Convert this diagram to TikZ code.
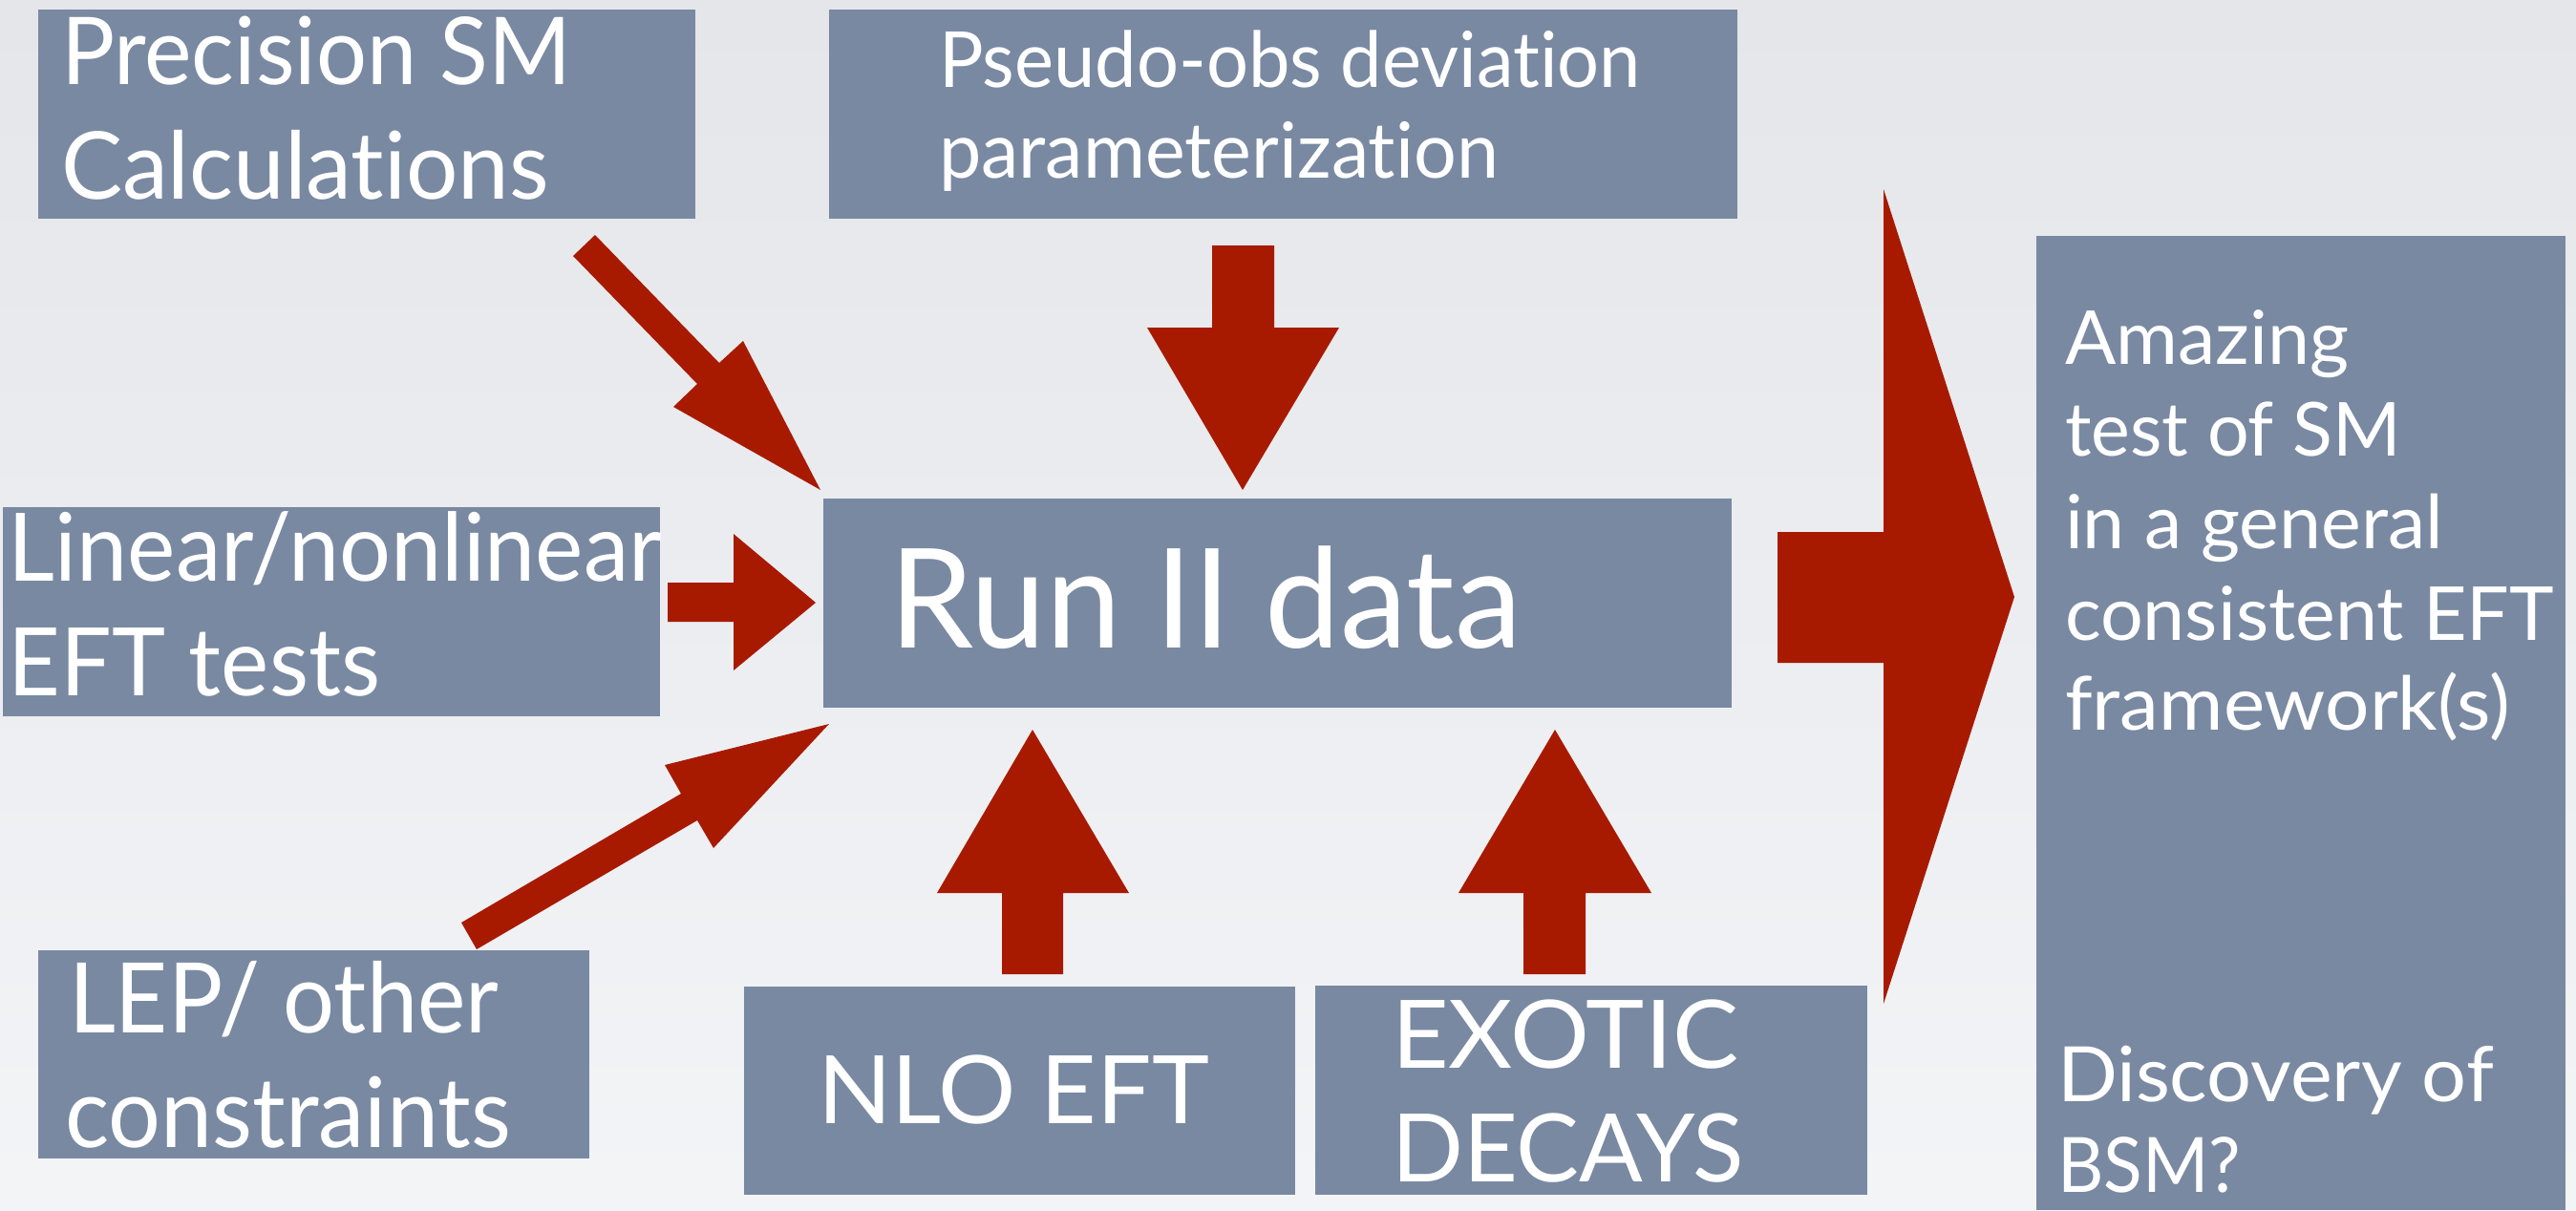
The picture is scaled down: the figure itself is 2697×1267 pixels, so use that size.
\documentclass[tikz,border=0pt]{standalone}
\usepackage{fontspec}
\setmainfont{Lato}[RawFeature={-liga;-dlig;-clig}]
\usepackage{graphicx}
\definecolor{bgc}{RGB}{235,237,241}
\definecolor{boxc}{RGB}{121,137,162}
\definecolor{arrc}{RGB}{168,26,0}
\newcommand{\fl}[3]{{\fontsize{#1pt}{#1pt}\selectfont\resizebox{#2pt}{\height}{#3}}}
\tikzset{
  box/.style={fill=boxc, draw=none, inner sep=0pt, outer sep=0pt, anchor=north west},
  txt/.style={anchor=base west, inner sep=0pt, outer sep=0pt, text=white},
  blockarrow/.style={fill=arrc, draw=none}
}
\begin{document}
\begin{tikzpicture}[x=1pt,y=-1pt]
\shade[top color=bgc!97!black, bottom color=bgc!60!white] (0,0) rectangle (2697,1267);
\useasboundingbox (0,0) rectangle (2697,1267);
% boxes
\node[box, minimum width=688pt, minimum height=219pt] (prec) at (40,10) {};
\node[box, minimum width=951pt, minimum height=219pt] (pseudo) at (868,10) {};
\node[box, minimum width=688pt, minimum height=219pt] (lin) at (3,531) {};
\node[box, minimum width=951pt, minimum height=219pt] (run) at (862,522) {};
\node[box, minimum width=577pt, minimum height=218pt] (lep) at (40,995) {};
\node[box, minimum width=577pt, minimum height=218pt] (nlo) at (779,1033) {};
\node[box, minimum width=578pt, minimum height=219pt] (exo) at (1377,1032) {};
\node[box, minimum width=554pt, minimum height=1020pt] (res) at (2132,247) {};
% texts
\node[txt] (t1) at (64,88) {\fl{98}{534}{Precision SM}};
\node[txt] (t2) at (64,208) {\fl{98}{511}{Calculations}};
\node[txt] (t3) at (983,91) {\fl{81}{735}{Pseudo-obs deviation}};
\node[txt] (t4) at (983,186) {\fl{81}{586}{parameterization}};
\node[txt] (t5) at (9,608) {\fl{99}{684}{Linear/nonlinear}};
\node[txt] (t6) at (9,728) {\fl{99}{389}{EFT tests}};
\node[txt] (t7) at (931,678) {\fl{145}{662}{Run II data}};
\node[txt] (t8) at (72,1081) {\fl{102}{450}{LEP/ other}};
\node[txt] (t9) at (68,1201) {\fl{102}{467}{constraints}};
\node[txt] (t10) at (856,1176) {\fl{99}{410}{NLO EFT}};
\node[txt] (t11) at (1457,1118) {\fl{99}{363}{EXOTIC}};
\node[txt] (t12) at (1457,1237) {\fl{99}{369}{DECAYS}};
\node[txt] (t13) at (2162,381) {\fl{78}{297}{Amazing}};
\node[txt] (t14) at (2162,477) {\fl{78}{352}{test of SM}};
\node[txt] (t15) at (2162,574) {\fl{78}{396}{in a general}};
\node[txt] (t16) at (2162,670) {\fl{78}{512}{consistent EFT}};
\node[txt] (t17) at (2162,764) {\fl{78}{466}{framework(s)}};
\node[txt] (t18) at (2154,1153) {\fl{80}{457}{Discovery of}};
\node[txt] (t19) at (2154,1248) {\fl{80}{192}{BSM?}};
% arrows
\fill[blockarrow] (600,268) -- (730,402) -- (705,426) -- (859,513) -- (778,357) -- (753,380) -- (623,246) -- cycle;
\fill[blockarrow] (483,966) -- (713,831) -- (696,801) -- (868,758) -- (747,888) -- (730,859) -- (499,994) -- cycle;
\fill[blockarrow] (699,610) -- (768,610) -- (768,559) -- (854,631) -- (768,702) -- (768,651) -- (699,651) -- cycle;
\fill[blockarrow] (1269,257) -- (1334,257) -- (1334,343) -- (1402,343) -- (1301,513) -- (1201,343) -- (1269,343) -- cycle;
\fill[blockarrow] (1049,1020) -- (1049,935) -- (981,935) -- (1081,764) -- (1182,935) -- (1113,935) -- (1113,1020) -- cycle;
\fill[blockarrow] (1595,1020) -- (1595,935) -- (1527,935) -- (1628,764) -- (1729,935) -- (1660,935) -- (1660,1020) -- cycle;
\fill[blockarrow] (1861,557) -- (1972,557) -- (1972,198) -- (2109,625) -- (1972,1051) -- (1972,694) -- (1861,694) -- cycle;
\end{tikzpicture}
\end{document}
